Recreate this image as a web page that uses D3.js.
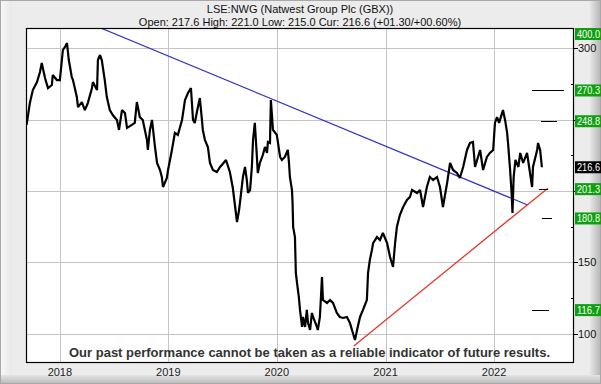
<!DOCTYPE html>
<html><head><meta charset="utf-8">
<script src="https://cdn.jsdelivr.net/npm/d3@7"></script>
<style>html,body{margin:0;padding:0;background:#fff}svg{display:block}</style>
</head><body>
<script>
const titleText = "LSE:NWG (Natwest Group Plc (GBX))";
const subText = "Open: 217.6 High: 221.0 Low: 215.0 Cur: 216.6 (+01.30/+00.60%)";
const disclaimer = "Our past performance cannot be taken as a reliable indicator of future results.";

const priceDates = ["2017-09-11","2017-09-22","2017-10-02","2017-10-16","2017-10-26","2017-11-01","2017-11-12","2017-11-22","2017-12-05","2017-12-08","2017-12-22",
"2018-01-01","2018-01-11","2018-01-18","2018-01-25","2018-01-31","2018-02-10","2018-02-14","2018-02-27","2018-03-03","2018-03-16","2018-03-26","2018-04-05","2018-04-19","2018-04-22","2018-05-06","2018-05-09","2018-05-16","2018-05-22","2018-06-01","2018-06-08","2018-06-18","2018-06-28","2018-07-12","2018-07-19","2018-07-29","2018-08-08","2018-08-15","2018-08-31","2018-09-10","2018-09-17","2018-09-27","2018-10-07","2018-10-21","2018-10-24","2018-10-31","2018-11-07","2018-11-17","2018-11-24","2018-12-04","2018-12-10","2018-12-14","2018-12-27","2018-12-31",
"2019-01-13","2019-01-23","2019-02-02","2019-02-16","2019-02-26","2019-03-08","2019-03-18","2019-03-25","2019-03-31","2019-04-07","2019-04-17","2019-04-24","2019-04-27","2019-05-04","2019-05-14","2019-05-21","2019-05-31","2019-06-13","2019-06-24","2019-06-30","2019-07-14","2019-07-27","2019-08-06","2019-08-13","2019-08-20","2019-08-27","2019-09-02","2019-09-09","2019-09-16","2019-09-22","2019-09-26","2019-10-03","2019-10-09","2019-10-13","2019-10-19","2019-10-26","2019-10-29","2019-11-05","2019-11-15","2019-11-22","2019-11-29","2019-12-02","2019-12-09","2019-12-12","2019-12-16","2019-12-19",
"2020-01-01","2020-01-05","2020-01-12","2020-01-18","2020-01-28","2020-02-07","2020-02-11","2020-02-14","2020-02-21","2020-02-23","2020-02-25","2020-03-02","2020-03-05","2020-03-09","2020-03-15","2020-03-19","2020-03-26","2020-03-29","2020-04-05","2020-04-11","2020-04-15","2020-04-22","2020-04-28","2020-05-02","2020-05-15","2020-05-18","2020-05-25","2020-06-01","2020-06-04","2020-06-18","2020-06-28","2020-07-08","2020-07-21","2020-07-31","2020-08-11","2020-08-24","2020-09-03","2020-09-13","2020-09-20","2020-09-27","2020-10-07","2020-10-17","2020-10-30","2020-11-03","2020-11-09","2020-11-16","2020-11-20","2020-12-03","2020-12-13","2020-12-23",
"2021-01-06","2021-01-16","2021-01-26","2021-02-02","2021-02-08","2021-02-18","2021-03-01","2021-03-14","2021-03-24","2021-03-31","2021-04-17","2021-04-27","2021-05-07","2021-05-20","2021-05-30","2021-06-10","2021-06-23","2021-07-03","2021-07-13","2021-07-27","2021-08-06","2021-08-16","2021-08-29","2021-09-08","2021-09-19","2021-10-02","2021-10-12","2021-10-22","2021-10-29","2021-11-08","2021-11-15","2021-11-25","2021-12-08","2021-12-18","2021-12-29",
"2022-01-04","2022-01-11","2022-01-18","2022-01-31","2022-02-07","2022-02-14","2022-02-17","2022-02-24","2022-03-01","2022-03-04","2022-03-08","2022-03-14","2022-03-24","2022-03-30","2022-04-09","2022-04-22","2022-05-02","2022-05-09","2022-05-12","2022-05-26","2022-05-29","2022-06-05","2022-06-11"];

const priceValues = [246.2,261.5,270.6,276.2,283.2,289.5,279.0,272.0,274.1,281.1,277.6,
277.6,298.6,300.7,303.5,291.6,279.7,277.6,265.7,258.7,262.2,256.6,261.5,272.0,276.2,270.6,291.6,295.1,291.6,277.6,265.7,256.6,253.1,249.7,242.7,256.6,254.5,244.1,246.2,247.6,262.2,251.7,249.7,235.7,228.7,242.7,249.7,230.8,219.6,214.7,209.8,202.8,209.1,214.7,
228.7,240.6,239.2,249.7,263.6,268.5,272.0,249.7,247.6,255.2,265.0,249.7,242.7,235.7,230.8,219.6,214.7,213.3,216.8,218.2,221.7,213.3,202.1,190.2,178.3,186.7,197.2,209.8,216.8,207.7,198.6,200.7,216.8,235.7,247.6,223.8,212.6,219.6,225.2,230.8,226.6,234.3,233.6,263.6,251.7,242.7,
239.2,233.6,223.8,221.7,223.8,228.7,219.6,209.8,200.7,191.6,174.8,167.8,142.7,135.7,125.9,116.8,104.9,111.9,104.9,116.8,107.7,102.8,114.7,111.9,104.9,102.8,111.9,139.9,123.8,121.7,123.8,121.7,114.7,111.9,111.2,111.9,107.7,100.7,95.8,102.8,111.9,116.8,123.8,142.7,151.7,158.7,163.6,167.8,165.7,170.6,
163.6,153.8,146.9,163.6,174.8,183.2,188.8,193.7,195.8,200.7,198.6,200.7,188.8,202.8,209.8,207.7,209.8,202.8,188.8,205.6,219.6,214.7,212.6,209.1,216.8,228.7,233.6,234.3,216.8,223.8,228.7,214.7,223.8,226.6,228.7,
247.6,251.7,247.6,256.6,249.7,240.6,233.6,214.7,198.6,184.6,209.8,221.7,216.8,226.6,219.6,226.6,212.6,202.8,216.8,228.7,233.6,228.7,216.6];

const yearTicks = ["2018","2019","2020","2021","2022"];
const yGridValues = [300,250,200,150,100];
const yLabelValues = [300,150,100];
const yMinorTicks = [275,225,175,125];

const blueTrend = [["2018-05-18",314],["2022-04-24",190.2]];
const redTrend = [["2020-09-16",91.6],["2022-07-01",202]];

const targetValues = [270.3,248.8,201.3,180.8,116.7];
const targetStart = ["2022-05-09","2022-06-08","2022-06-01","2022-06-11","2022-05-09"];
const targetEnd = ["2022-08-24","2022-08-01","2022-07-02","2022-07-15","2022-07-05"];

const boxLabels = ["400.0","270.3","248.8","216.6","201.3","180.8","116.7"];
const boxValues = [400,270.3,248.8,216.6,201.3,180.8,116.7];
const boxIsCurrent = [false,false,false,true,false,false,false];

const W = 601, H = 384;
const L = 26, R = 574, T = 28, B = 363;
const parse = d3.timeParse("%Y-%m-%d");

const svg = d3.select("body").append("svg").attr("width", W).attr("height", H)
  .style("font-family", "Arial, 'Liberation Sans', sans-serif");

const defs = svg.append("defs");
const gb = defs.append("linearGradient").attr("id","gb").attr("x1",0).attr("y1",0).attr("x2",0).attr("y2",1);
gb.append("stop").attr("offset","0%").attr("stop-color","#e4e4e4");
gb.append("stop").attr("offset","100%").attr("stop-color","#b9b9b9");
const gr = defs.append("linearGradient").attr("id","gr").attr("x1",0).attr("y1",0).attr("x2",1).attr("y2",0);
gr.append("stop").attr("offset","0%").attr("stop-color","#e6e6e6");
gr.append("stop").attr("offset","100%").attr("stop-color","#b4b4b4");
const gl = defs.append("linearGradient").attr("id","gl").attr("x1",0).attr("y1",0).attr("x2",1).attr("y2",0);
gl.append("stop").attr("offset","0%").attr("stop-color","#f8f8f8");
gl.append("stop").attr("offset","100%").attr("stop-color","#e8e8e8");

svg.append("rect").attr("width",W).attr("height",H).attr("fill","#ececec");
svg.append("rect").attr("x",0).attr("y",0).attr("width",12).attr("height",H).attr("fill","url(#gl)");
svg.append("rect").attr("x",590).attr("y",0).attr("width",11).attr("height",H).attr("fill","url(#gr)");
svg.append("rect").attr("x",0).attr("y",375).attr("width",W).attr("height",9).attr("fill","url(#gb)");
svg.append("rect").attr("x",0.5).attr("y",0.5).attr("width",W-1).attr("height",H-1).attr("fill","none").attr("stroke","#a8a8a8");

const x = d3.scaleTime().domain([parse("2017-09-09"), parse("2022-09-27")]).range([L, R]);
const y = d3.scaleLinear().domain([79.7, 314]).range([B, T]);

svg.append("rect").attr("x",L).attr("y",T).attr("width",R-L).attr("height",B-T).attr("fill","#fff");

// grid
svg.append("g").selectAll("line").data(yearTicks).join("line")
  .attr("x1", d => Math.round(x(parse(d+"-01-01")))+0.5).attr("x2", d => Math.round(x(parse(d+"-01-01")))+0.5)
  .attr("y1", T).attr("y2", B).attr("stroke","#c4c4c4");
svg.append("g").selectAll("line").data(yGridValues).join("line")
  .attr("x1", L).attr("x2", R).attr("y1", d => Math.round(y(d))+0.5).attr("y2", d => Math.round(y(d))+0.5)
  .attr("stroke","#c4c4c4");

const clip = defs.append("clipPath").attr("id","clip");
clip.append("rect").attr("x",L).attr("y",T).attr("width",R-L).attr("height",B-T);
const plot = svg.append("g").attr("clip-path","url(#clip)");

// trend lines
const tl = d3.line().x(d => x(parse(d[0]))).y(d => y(d[1]));
plot.append("path").attr("d", tl(blueTrend)).attr("stroke","#3434c4").attr("stroke-width",1.3).attr("fill","none");
plot.append("path").attr("d", tl(redTrend)).attr("stroke","#e8362a").attr("stroke-width",1.3).attr("fill","none");

// price
const pts = priceDates.map((d,i) => [parse(d), priceValues[i]]);
plot.append("path").attr("d", d3.line().x(d => x(d[0])).y(d => y(d[1]))(pts))
  .attr("stroke","#000").attr("stroke-width",2.2).attr("fill","none").attr("stroke-linejoin","miter").attr("stroke-miterlimit",2);

// targets
svg.append("g").selectAll("line").data(targetValues).join("line")
  .attr("x1",(d,i)=>x(parse(targetStart[i]))).attr("x2",(d,i)=>x(parse(targetEnd[i])))
  .attr("y1",d=>Math.round(y(d))+0.5).attr("y2",d=>Math.round(y(d))+0.5)
  .attr("stroke","#000").attr("stroke-width",1);

// frame
svg.append("rect").attr("x",L+0.5).attr("y",T+0.5).attr("width",R-L-1).attr("height",B-T-1)
  .attr("fill","none").attr("stroke","#000").attr("stroke-width",1.2);

// right axis
const ra = svg.append("g");
ra.selectAll("line.maj").data(yGridValues).join("line").attr("class","maj")
  .attr("x1",R).attr("x2",R+4).attr("y1",d=>Math.round(y(d))+0.5).attr("y2",d=>Math.round(y(d))+0.5).attr("stroke","#000");
ra.selectAll("line.min").data(yMinorTicks).join("line").attr("class","min")
  .attr("x1",R-3).attr("x2",R).attr("y1",d=>Math.round(y(d))+0.5).attr("y2",d=>Math.round(y(d))+0.5).attr("stroke","#000");
ra.selectAll("text").data(yLabelValues).join("text")
  .attr("x",R+4).attr("y",d=>y(d)+4).attr("font-size",11).attr("fill","#111").text(d=>d);

// value boxes
const bx = svg.append("g");
boxValues.forEach((v,i) => {
  const yy = Math.max(y(v), T + 6);
  bx.append("rect").attr("x",R+1).attr("y",yy-6).attr("width",W-R).attr("height",12)
    .attr("fill", boxIsCurrent[i] ? "#000" : "#0fa00f");
  bx.append("text").attr("x",R+3).attr("y",yy+4).attr("font-size",10).attr("fill","#fff")
    .attr("textLength",23).attr("lengthAdjust","spacingAndGlyphs").text(boxLabels[i]);
});

// x labels
svg.append("g").selectAll("text").data(yearTicks).join("text")
  .attr("x", d => x(parse(d+"-01-01"))).attr("y", 376).attr("text-anchor","middle")
  .attr("font-size",11).attr("fill","#222").text(d=>d);

// titles
svg.append("text").attr("x",300).attr("y",13).attr("text-anchor","middle").attr("font-size",11).attr("fill","#111").text(titleText);
svg.append("text").attr("x",300).attr("y",26).attr("text-anchor","middle").attr("font-size",11).attr("fill","#111").text(subText);

svg.append("text").attr("x",69).attr("y",357).attr("font-size",13.5).attr("font-weight","bold").attr("fill","#333")
  .attr("textLength",481).attr("lengthAdjust","spacingAndGlyphs").text(disclaimer);
</script>
</body></html>
